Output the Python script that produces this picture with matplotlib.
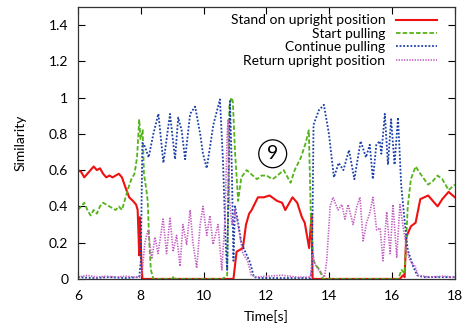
import matplotlib
matplotlib.use("Agg")
import matplotlib.pyplot as plt
from matplotlib.ticker import FormatStrFormatter, MultipleLocator

plt.rcParams["font.family"] = ["Lato", "DejaVu Sans"]
plt.rcParams["font.size"] = 10

# Stand on upright position
t_stand = [6.0, 6.1, 6.2, 6.3, 6.4, 6.5, 6.6, 6.7, 6.8, 6.9,
           7.0, 7.1, 7.2, 7.3, 7.4, 7.5, 7.63, 7.75, 7.85, 7.9,
           7.95, 7.97, 8.02, 8.05, 10.95, 11.05, 11.25, 11.35, 11.45, 11.53,
           11.73, 11.92, 12.1, 12.34, 12.5, 12.6, 12.83, 12.98, 13.13, 13.22,
           13.36, 13.44, 13.47, 16.25, 16.35, 16.4, 16.45, 16.6, 16.75, 16.9,
           17.15, 17.3, 17.45, 17.6, 17.8, 18.0]
v_stand = [0.60, 0.59, 0.56, 0.58, 0.60, 0.62, 0.60, 0.61, 0.58, 0.56,
           0.57, 0.56, 0.57, 0.58, 0.56, 0.51, 0.45, 0.43, 0.41, 0.38,
           0.13, 0.34, 0.10, 0.0, 0.0, 0.15, 0.17, 0.30, 0.36, 0.38,
           0.45, 0.45, 0.46, 0.43, 0.42, 0.38, 0.45, 0.42, 0.34, 0.31,
           0.17, 0.36, 0.0, 0.0, 0.02, 0.01, 0.23, 0.29, 0.31, 0.44,
           0.46, 0.43, 0.40, 0.44, 0.48, 0.45]

# Start pulling
t_start = [6.0, 6.1, 6.2, 6.3, 6.4, 6.5, 6.6, 6.7, 6.8, 6.9,
           7.0, 7.1, 7.2, 7.3, 7.4, 7.5, 7.6, 7.7, 7.8, 7.88,
           7.95, 7.99, 8.06, 8.1, 8.17, 8.22, 8.27, 8.32, 8.4, 9.0,
           9.05, 9.1, 10.6, 10.75, 10.82, 10.88, 10.93, 11.0, 11.1, 11.2,
           11.37, 11.5, 11.7, 11.85, 12.0, 12.2, 12.35, 12.55, 12.77, 12.9,
           13.1, 13.25, 13.35, 13.42, 13.5, 13.6, 13.7, 13.8, 16.2, 16.3,
           16.4, 16.5, 16.6, 16.75, 16.9, 17.15, 17.3, 17.45, 17.6, 17.8,
           18.0]
v_start = [0.38, 0.40, 0.42, 0.38, 0.35, 0.38, 0.36, 0.40, 0.42, 0.41,
           0.40, 0.39, 0.38, 0.40, 0.38, 0.44, 0.50, 0.55, 0.58, 0.67,
           0.88, 0.77, 0.82, 0.58, 0.50, 0.43, 0.20, 0.05, 0.0, 0.0,
           0.015, 0.0, 0.0, 0.02, 0.95, 1.0, 0.98, 0.70, 0.43, 0.56,
           0.60, 0.58, 0.55, 0.57, 0.57, 0.55, 0.57, 0.60, 0.53, 0.60,
           0.67, 0.75, 0.82, 0.30, 0.10, 0.07, 0.05, 0.0, 0.0, 0.05,
           0.03, 0.40, 0.55, 0.62, 0.58, 0.52, 0.54, 0.57, 0.55, 0.49,
           0.52]

# Continue pulling
t_cont = [6.0, 6.5, 7.0, 7.5, 7.95,
          8.0, 8.05, 8.13, 8.25, 8.4, 8.56, 8.72, 8.93, 9.09, 9.19,
          9.3, 9.41, 9.57, 9.73, 9.89, 9.98, 10.1, 10.31, 10.52, 10.62,
          10.7, 10.75, 10.84, 10.9, 10.95, 11.0, 11.1, 11.2, 11.35, 11.48,
          11.6, 11.8,
          13.4, 13.45, 13.5, 13.67, 13.83, 13.99, 14.15, 14.3, 14.45, 14.63,
          14.8, 15.0, 15.17, 15.29, 15.39, 15.5, 15.61, 15.66, 15.77, 15.87,
          15.97, 16.08, 16.19, 16.29, 16.4, 16.5, 16.67, 16.8, 17.0, 18.0]
v_cont = [0.01, 0.005, 0.01, 0.005, 0.01,
          0.10, 0.75, 0.73, 0.67, 0.80, 0.91, 0.64, 0.91, 0.66, 0.89,
          0.82, 0.66, 0.91, 0.95, 0.80, 0.69, 0.61, 0.85, 0.99, 0.64,
          0.20, 0.05, 0.98, 0.60, 0.10, 0.40, 0.31, 0.20, 0.14, 0.09,
          0.01, 0.005,
          0.005, 0.05, 0.85, 0.93, 0.96, 0.80, 0.56, 0.64, 0.60, 0.71,
          0.55, 0.76, 0.67, 0.74, 0.55, 0.74, 0.76, 0.69, 0.91, 0.63,
          0.88, 0.63, 0.89, 0.52, 0.32, 0.16, 0.07, 0.02, 0.01, 0.01]

# Return upright position
t_ret = [6.0, 6.3, 6.6, 6.9, 7.2, 7.5, 7.8, 8.0,
         8.05, 8.13, 8.23, 8.35, 8.45, 8.55, 8.71, 8.82, 8.93, 9.03,
         9.14, 9.25, 9.34, 9.46, 9.57, 9.66, 9.78, 9.89, 9.98, 10.1,
         10.2, 10.3, 10.46, 10.58, 10.68, 10.75, 10.78, 10.82, 10.9, 11.0,
         11.1, 11.25, 11.4, 11.52, 11.7, 12.0, 12.5, 13.0, 13.4, 13.47,
         13.55, 13.7, 13.85, 13.92, 14.03, 14.12, 14.28, 14.4, 14.5, 14.6,
         14.76, 14.88, 14.98, 15.08, 15.19, 15.3, 15.39, 15.51, 15.62, 15.71,
         15.83, 15.94, 16.03, 16.15, 16.25, 16.35, 16.47, 16.57, 16.73, 16.83,
         17.2, 17.6, 18.0]
v_ret = [0.01, 0.02, 0.01, 0.015, 0.01, 0.015, 0.01, 0.01,
         0.05, 0.20, 0.27, 0.11, 0.23, 0.14, 0.33, 0.14, 0.34, 0.15,
         0.24, 0.07, 0.30, 0.19, 0.38, 0.20, 0.06, 0.30, 0.40, 0.24,
         0.35, 0.19, 0.30, 0.05, 0.33, 0.80, 0.88, 0.44, 0.30, 0.38,
         0.29, 0.14, 0.10, 0.02, 0.01, 0.015, 0.02, 0.01, 0.01, 0.14,
         0.08, 0.04, 0.01, 0.10, 0.40, 0.45, 0.38, 0.41, 0.33, 0.41,
         0.30, 0.40, 0.45, 0.21, 0.31, 0.37, 0.45, 0.27, 0.28, 0.10,
         0.37, 0.14, 0.41, 0.12, 0.41, 0.29, 0.16, 0.10, 0.07, 0.02,
         0.01, 0.015, 0.01]

fig = plt.figure(figsize=(4.67, 3.27), dpi=100)
ax = fig.add_axes([0.167, 0.147, 0.807, 0.832])

ax.plot(t_stand, v_stand, color="#ee1111", lw=1.5, label="Stand on upright position")
ax.plot(t_start, v_start, color="#55b31a", lw=1.3, ls=(0, (2.5, 1.2)), label="Start pulling")
ax.plot(t_cont, v_cont, color="#1a3fa8", lw=1.3, ls=(0, (1, 1)), label="Continue pulling")
ax.plot(t_ret, v_ret, color="#c25ec2", lw=1.2, ls=(0, (0.8, 0.8)), label="Return upright position")

# circled scene number
ax.text(12.2, 0.69, "9", fontsize=14, ha="center", va="center",
        bbox=dict(boxstyle="circle,pad=0.28", fc="white", ec="black", lw=0.9))

ax.set_xlim(6, 18)
ax.set_ylim(0, 1.5)
ax.xaxis.set_major_locator(MultipleLocator(2))
ax.yaxis.set_major_locator(MultipleLocator(0.2))
ax.yaxis.set_major_formatter(FormatStrFormatter("%g"))
ax.tick_params(direction="in", top=True, right=True, length=5, width=0.8)
ax.tick_params(axis="x", pad=8)
ax.tick_params(axis="y", pad=7)
for s in ax.spines.values():
    s.set_linewidth(0.9)
    s.set_color("#333333")

ax.set_xlabel("Time[s]", labelpad=5.5)
ax.set_ylabel("Similarity", labelpad=16)

ax.legend(loc="upper right", bbox_to_anchor=(0.974, 1.003), frameon=False,
          markerfirst=False, handlelength=2.9, labelspacing=0.1,
          borderaxespad=0.2, handletextpad=0.8)

fig.savefig("out.png", dpi=100)
